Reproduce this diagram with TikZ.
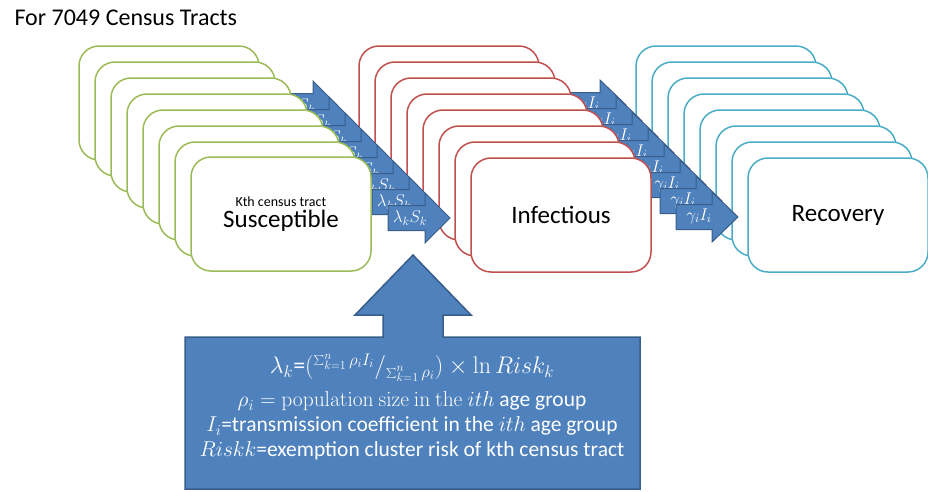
\RequirePackage{fix-cm}
\documentclass[tikz,border=0pt]{standalone}
\usepackage[no-math]{fontspec}
\setmainfont{Carlito}
\definecolor{susgreen}{HTML}{9BBB59}
\definecolor{infred}{HTML}{C0504D}
\definecolor{recblue}{HTML}{4BACC6}
\definecolor{flowfill}{HTML}{4F81BD}
\definecolor{flowedge}{HTML}{385D8A}
\tikzset{
    tract/.style={draw, fill=white, line width=1.5pt, rounded corners=20pt,
        minimum width=180pt, minimum height=114pt, inner sep=0pt, align=center},
    flowarrow/.style={fill=flowfill, draw=flowedge, line width=1pt},
    flowlabel/.style={text=white, font=\fontsize{17}{17}\selectfont, inner sep=0pt},
}

\begin{document}
\begin{tikzpicture}[x=1pt, y=-1pt]
    \useasboundingbox (0,0) rectangle (928,491);

    \node[anchor=base west, font=\fontsize{24}{27}\selectfont] (title) at (11,25) {For 7049 Census Tracts};

    % Recovery
    \foreach \k in {7,6,...,1}
        \node[tract, draw=recblue] (rec\k) at ({838-16*\k},{215-16*\k}) {};
    \node[tract, draw=recblue, font=\fontsize{25}{30}\selectfont] (rec0) at (838,215) {Recovery};

    % flows I -> R
    \foreach \k in {7,6,...,0} {
        \draw[flowarrow, shift={(-16*\k,-16*\k)}] (676,204.5) -- (712,204.5) -- (712,192) -- (738,217)
            -- (712,242) -- (712,229.5) -- (676,229.5) -- cycle;
        \node[flowlabel] (ir\k) at ({699-16*\k},{216-16*\k}) {$\gamma_i I_i$};
    }

    % Infectious
    \foreach \k in {7,6,...,1}
        \node[tract, draw=infred] (inf\k) at ({561-16*\k},{215-16*\k}) {};
    \node[tract, draw=infred, font=\fontsize{25}{30}\selectfont] (inf0) at (561,215) {Infectious};

    % flows S -> I
    \foreach \k in {7,6,...,0} {
        \draw[flowarrow, shift={(-16*\k,-16*\k)}] (388,205.5) -- (425,205.5) -- (425,193) -- (450,218)
            -- (425,243) -- (425,230.5) -- (388,230.5) -- cycle;
        \node[flowlabel] (si\k) at ({410-16*\k},{218-16*\k}) {$\lambda_k S_k$};
    }

    % Susceptible
    \foreach \k in {7,6,...,1}
        \node[tract, draw=susgreen] (sus\k) at ({281-16*\k},{215-16*\k}) {};
    \node[tract, draw=susgreen] (sus0) at (281,214)
        {\fontsize{14}{17}\selectfont Kth census tract\\[2pt] \fontsize{25}{30}\selectfont Susceptible};

    % force of infection
    \draw[flowarrow, line width=1.5pt] (185,337) -- (383,337) -- (383,315) -- (355,315) -- (413,255)
        -- (471,315) -- (443,315) -- (443,337) -- (640,337) -- (640,489) -- (185,489) -- cycle;
    \node[text=white, align=center, font=\fontsize{21.5}{25}\selectfont] (rate) at (412,407)
        {{\fontsize{24}{25}\selectfont $\lambda_k$=$\bigl({}^{\sum_{k=1}^{n}\rho_i I_i}/_{\sum_{k=1}^{n}\rho_i}\bigr)\times\ln Risk_k$}\\[8pt]
         $\rho_i = \mathrm{population\ size\ in\ the}\ ith$ age group\\
         $I_i$=transmission coefficient in the $ith$ age group\\
         $Riskk$=exemption cluster risk of kth census tract};
\end{tikzpicture}
\end{document}
